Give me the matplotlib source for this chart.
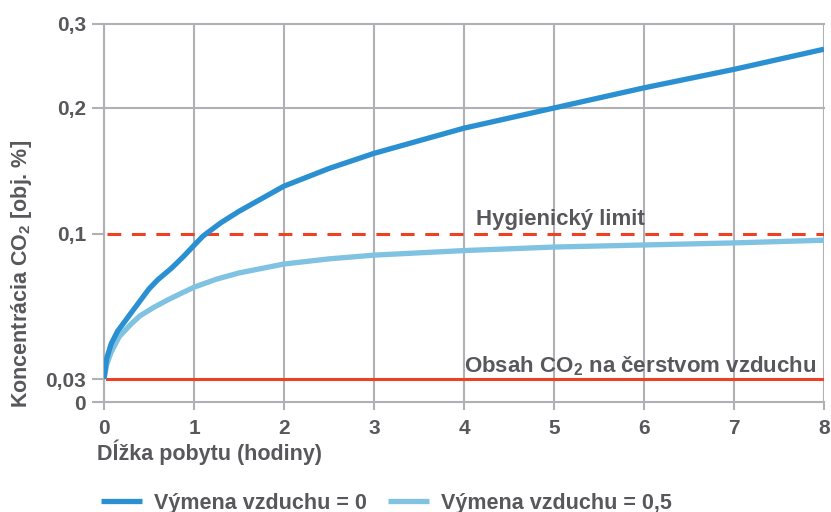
import numpy as np
import matplotlib
matplotlib.use("Agg")
import matplotlib.pyplot as plt

# data
hours_0 = [0, 0.03, 0.08, 0.15, 0.32, 0.5, 0.6, 0.75, 0.88, 1.0, 1.1, 1.3,
           1.5, 2, 2.5, 3, 4, 5, 6, 7, 8]
co2_0 = [0.03, 0.04, 0.047, 0.053, 0.063, 0.0735, 0.078, 0.0835, 0.089,
         0.0945, 0.099, 0.109, 0.118, 0.138, 0.152, 0.164, 0.184, 0.2, 0.224,
         0.246, 0.27]
hours_05 = [0, 0.03, 0.08, 0.17, 0.3, 0.4, 0.55, 0.7, 0.85, 1.0, 1.25, 1.5,
            2, 2.5, 3, 4, 5, 6, 7, 8]
co2_05 = [0.03, 0.037, 0.043, 0.0505, 0.0565, 0.0605, 0.0645, 0.068, 0.0712,
          0.0743, 0.0782, 0.0812, 0.0855, 0.088, 0.0898, 0.092, 0.0937,
          0.0947, 0.0957, 0.097]
hyg_limit = 0.1
fresh_air = 0.03
y_ticks = [0, 0.03, 0.1, 0.2, 0.3]
y_ticklabels = ['0', '0,03', '0,1', '0,2', '0,3']
x_ticks = [0, 1, 2, 3, 4, 5, 6, 7, 8]
labels = ['Výmena vzduchu = 0', 'Výmena vzduchu = 0,5']

GRAY = '#58585c'
GRID = '#b1b1b5'
DARK = '#2a90d2'
LIGHT = '#7fc2e2'
RED = '#ee4124'

plt.rcParams['font.family'] = ['Liberation Sans', 'DejaVu Sans']
plt.rcParams['font.weight'] = 'bold'
plt.rcParams['mathtext.fontset'] = 'custom'
plt.rcParams['mathtext.rm'] = 'Liberation Sans:bold'
plt.rcParams['mathtext.bf'] = 'Liberation Sans:bold'
plt.rcParams['mathtext.default'] = 'bf'

fig = plt.figure(figsize=(8.31, 5.12), dpi=100)
ax = fig.add_axes([104 / 831, 1 - 402 / 512, 720 / 831, 378 / 512])

# the reference uses an uneven vertical scale (piecewise)
_yv = [-0.03, 0, 0.03, 0.1, 0.2, 0.3, 0.6]
_yp = [-23, 0, 23, 168, 294, 378, 630]
ax.set_yscale('function', functions=(lambda v: np.interp(v, _yv, _yp),
                                     lambda p: np.interp(p, _yp, _yv)))
ax.set_ylim(0, 0.3)
ax.set_xlim(0, 8)

ax.set_xticks(x_ticks)
ax.set_yticks(y_ticks)
ax.set_yticklabels(y_ticklabels)
ax.yaxis.set_minor_locator(matplotlib.ticker.NullLocator())
ax.tick_params(axis='x', length=6, width=1.5, color=GRID, pad=6,
               labelsize=15, labelcolor=GRAY)
ax.tick_params(axis='y', length=9, width=1.5, color=GRID, pad=4,
               labelsize=15, labelcolor=GRAY)
for s in ['top', 'right']:
    ax.spines[s].set_visible(False)
for s in ['left', 'bottom']:
    ax.spines[s].set_color(GRID)
    ax.spines[s].set_linewidth(1.5)

ax.grid(axis='x', color=GRID, linewidth=1.5)
for yg in [0.2, 0.3]:
    ax.axhline(yg, color=GRID, linewidth=1.5, zorder=1, clip_on=False)
ax.set_axisbelow(True)

ax.axhline(hyg_limit, color=RED, linewidth=2.2, dashes=(4.5, 3.5), xmin=0.004)
ax.axhline(fresh_air, color=RED, linewidth=2.2, xmin=0.004)

l0, = ax.plot(hours_0, co2_0, color=DARK, linewidth=3.8, solid_capstyle='butt',
              solid_joinstyle='round', zorder=4)
l1, = ax.plot(hours_05, co2_05, color=LIGHT, linewidth=3.8,
              solid_capstyle='butt', solid_joinstyle='round', zorder=3)

ax.annotate('Hygienický limit', xy=(4.13, hyg_limit), xytext=(0, 3),
            textcoords='offset points', fontsize=16, color=GRAY,
            ha='left', va='bottom')
ax.annotate('Obsah CO$_2$ na čerstvom vzduchu', xy=(7.92, fresh_air),
            xytext=(0, 1), textcoords='offset points', fontsize=16,
            color=GRAY, ha='right', va='bottom')

fig.text(22 / 831, 1 - 408 / 512, 'Koncentrácia CO$_2$ [obj. %]', rotation=90,
         fontsize=15.5, color=GRAY, ha='center', va='bottom')
fig.text(97 / 831, 1 - 452 / 512, 'Dĺžka pobytu (hodiny)', fontsize=15.5,
         color=GRAY, ha='left', va='center')

fig.legend([l0, l1], labels, loc='center left',
           bbox_to_anchor=(101 / 831, 1 - 503 / 512), ncol=2, frameon=False,
           fontsize=15.5, labelcolor=GRAY, handlelength=1.9,
           handletextpad=0.55, columnspacing=1.0, borderpad=0,
           borderaxespad=0)

fig.savefig('out.png', dpi=100)
